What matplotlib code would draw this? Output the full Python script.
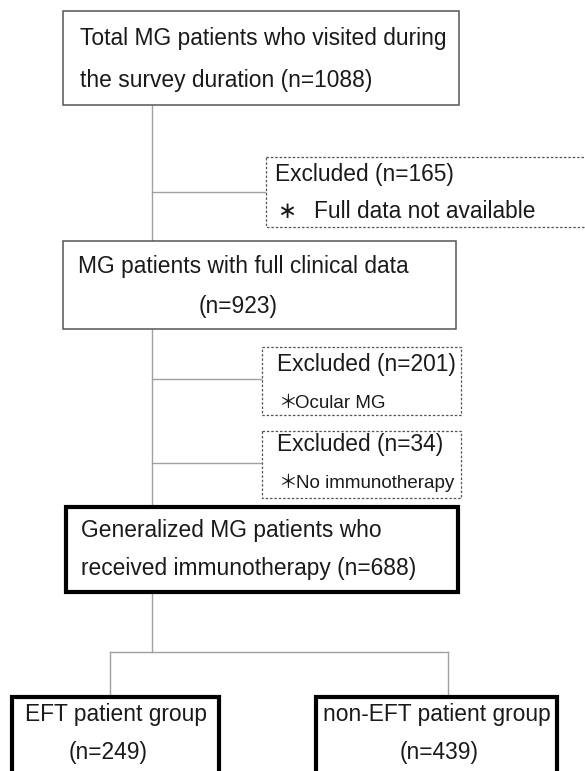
import matplotlib.pyplot as plt
from matplotlib.patches import Rectangle

# flow chart content
main_lines = [
    ["Total MG patients who visited during", "the survey duration (n=1088)"],
    ["MG patients with full clinical data", "(n=923)"],
    ["Generalized MG patients who", "received immunotherapy (n=688)"],
]
excluded_n = [165, 201, 34]
excluded_reason = ["Full data not available", "Ocular MG", "No immunotherapy"]
group_names = ["EFT patient group", "non-EFT patient group"]
group_n = [249, 439]

FONT = ["Liberation Sans", "Noto Sans CJK JP", "DejaVu Sans"]
TXT = "#1a1a1a"
LINE = "#a0a0a0"

fig = plt.figure(figsize=(5.85, 7.71), dpi=100)
ax = fig.add_axes([0, 0, 1, 1])
ax.set_xlim(0, 585)
ax.set_ylim(771, 0)
ax.axis("off")


def box(x0, y0, x1, y1, **kw):
    ax.add_patch(Rectangle((x0, y0), x1 - x0, y1 - y0, zorder=2, **kw))


def txt(x, y, s, size=16.4, ha="left"):
    ax.text(x, y, s, fontsize=size, ha=ha, va="center", color=TXT,
            family=FONT, zorder=3)


def link(xs, ys):
    ax.plot(xs, ys, color=LINE, lw=1.0, zorder=1)


# connectors
spine_x = 152
link([spine_x, spine_x], [105, 652])
for y, x1 in [(192, 266), (379, 262), (463, 262)]:
    link([spine_x, x1], [y, y])
link([110, 448], [652, 652])
link([110, 110], [652, 697])
link([448, 448], [652, 697])

# main boxes
thin = dict(edgecolor="#555555", lw=1.1, facecolor="white")
thick = dict(edgecolor="black", lw=3.0, facecolor="white")
box(63, 11, 459, 105, **thin)
box(63, 241, 456, 329, **thin)
box(66, 507, 458, 592, **thick)

txt(80, 38, main_lines[0][0])
txt(80, 80, main_lines[0][1])
txt(78, 267, main_lines[1][0])
txt(238, 307, main_lines[1][1], ha="center")
txt(81, 530, main_lines[2][0])
txt(81, 569, main_lines[2][1])

# excluded boxes
dash = dict(edgecolor="#555555", lw=0.9, linestyle=(0, (2.0, 1.5)), facecolor="white")
box(266, 157, 600, 227, **dash)
box(262, 347, 461, 415, **dash)
box(262, 431, 461, 498, **dash)

txt(275, 175, f"Excluded (n={excluded_n[0]})")
txt(277, 212, "\u2217")
txt(314, 212, excluded_reason[0])
txt(277, 365, f"Excluded (n={excluded_n[1]})")
txt(278, 403, "\uff0a", size=13.5)
txt(295, 403, excluded_reason[1], size=13.5)
txt(277, 445, f"Excluded (n={excluded_n[2]})")
txt(278, 483, "\uff0a", size=13.5)
txt(296, 483, excluded_reason[2], size=13.5)

# group boxes (run off the bottom edge)
box(12, 697, 219, 800, **thick)
box(316, 697, 557, 800, **thick)
txt(116, 715, group_names[0], ha="center")
txt(108, 753, f"(n={group_n[0]})", ha="center")
txt(437, 715, group_names[1], ha="center")
txt(439, 753, f"(n={group_n[1]})", ha="center")

fig.savefig("out.png", dpi=100)
